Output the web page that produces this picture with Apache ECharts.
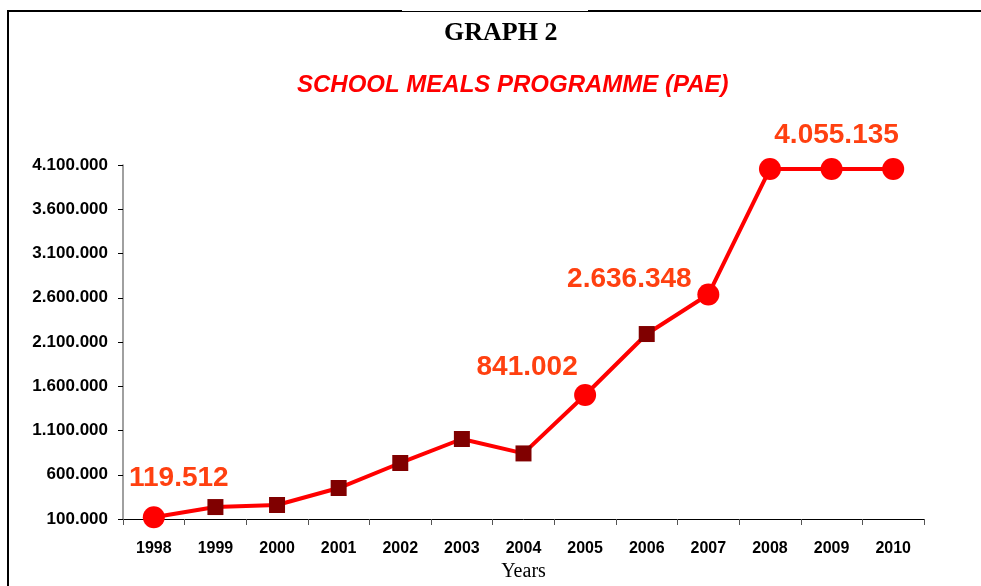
<!DOCTYPE html>
<html>
<head>
<meta charset="utf-8">
<script src="https://cdn.jsdelivr.net/npm/echarts@6/dist/echarts.min.js"></script>
<style>
	html, body { margin: 0; padding: 0; background: #fff; }
	#lineChart { width: 981px; height: 586px; }
</style>
</head>
<body>
<div id="lineChart"></div>
<script>
// 数据
const years = ['1998', '1999', '2000', '2001', '2002', '2003', '2004', '2005', '2006', '2007', '2008', '2009', '2010'];
const meals = [119512, 235000, 258000, 450000, 733000, 1004000, 841002, 1501000, 2190000, 2636348, 4055135, 4055135, 4055135];
const pointLabels = ['119.512', '', '', '', '', '', '', '841.002', '', '2.636.348', '', '4.055.135', ''];
const yMin = 100000;
const yMax = 4100000;
const yStep = 500000;

// 样式
const circleYears = ['1998', '2005', '2007', '2008', '2009', '2010'];
const labelOffsets = { '1998': [25, -39], '2005': [-58, -28], '2007': [-79, -15], '2009': [5, -34] };

const dotted = (v) => String(v).replace(/\B(?=(\d{3})+(?!\d))/g, '.');

let seriesData = years.map((year, i) => {
	let circle = circleYears.indexOf(year) >= 0;
	let item = {
		value: meals[i],
		symbol: circle ? 'circle' : 'rect',
		symbolSize: circle ? 22 : 16,
		itemStyle: { color: circle ? '#ff0000' : '#800000' }
	};
	if (pointLabels[i]) {
		item.label = {
			show: true,
			position: 'inside',
			offset: labelOffsets[year],
			formatter: pointLabels[i],
			color: '#ff4010',
			fontSize: 28,
			fontWeight: 'bold',
			fontFamily: 'Liberation Sans'
		};
	}
	return item;
});

let myChart = echarts.init(document.getElementById('lineChart'));
myChart.setOption({
	animation: false,
	backgroundColor: '#fff',
	title: [
		{
			text: 'GRAPH 2',
			left: 439, top: 15,
			textStyle: { fontFamily: 'Liberation Serif', fontWeight: 'bold', fontSize: 26, color: '#000' }
		},
		{
			text: 'SCHOOL MEALS PROGRAMME (PAE)',
			left: 292, top: 68,
			textStyle: { fontFamily: 'Liberation Sans', fontStyle: 'italic', fontWeight: 'bold', fontSize: 24, color: '#ff0000' }
		}
	],
	graphic: [
		{ type: 'line', shape: { x1: 8, y1: 11, x2: 8, y2: 586 }, style: { stroke: '#000', lineWidth: 2 } },
		{ type: 'line', shape: { x1: 7, y1: 11, x2: 402, y2: 11 }, style: { stroke: '#000', lineWidth: 2 } },
		{ type: 'line', shape: { x1: 402, y1: 11.5, x2: 588, y2: 11.5 }, style: { stroke: '#000', lineWidth: 1 } },
		{ type: 'line', shape: { x1: 588, y1: 11, x2: 981, y2: 11 }, style: { stroke: '#000', lineWidth: 2 } }
	],
	grid: { left: 123, right: 57, top: 165, bottom: 67, containLabel: false, outerBoundsMode: 'none' },
	xAxis: {
		type: 'category',
		data: years,
		boundaryGap: true,
		name: 'Years',
		nameLocation: 'middle',
		nameGap: 41,
		nameTextStyle: { fontFamily: 'Liberation Serif', fontSize: 20, color: '#000' },
		axisLine: { lineStyle: { color: '#000', width: 1 } },
		axisTick: { show: true, length: 6, interval: 0, lineStyle: { color: '#555' } },
		axisLabel: { interval: 0, margin: 22, color: '#000', fontFamily: 'Liberation Sans', fontWeight: 'bold', fontSize: 16 },
		splitLine: { show: false }
	},
	yAxis: {
		type: 'value',
		min: yMin,
		max: yMax,
		interval: yStep,
		axisLine: { show: true, lineStyle: { color: '#808080', width: 1.5 } },
		axisTick: { show: true, length: 5, lineStyle: { color: '#000' } },
		axisLabel: { margin: 15, color: '#000', fontFamily: 'Liberation Sans', fontWeight: 'bold', fontSize: 17, formatter: dotted },
		splitLine: { show: false }
	},
	series: [{
		type: 'line',
		data: seriesData,
		lineStyle: { color: '#ff0000', width: 4 },
		z: 3
	}]
});
</script>
</body>
</html>
